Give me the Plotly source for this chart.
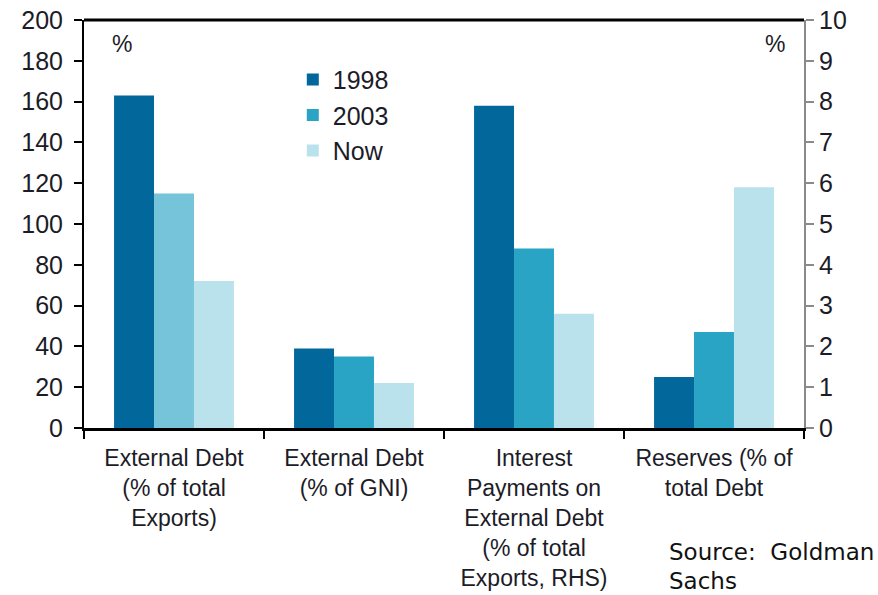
import plotly.graph_objects as go

# Categories and series values (groups 0, 1, 3 on the left axis in %, group 2 on the right axis)
categories = [
    "External Debt<br>(% of total<br>Exports)",
    "External Debt<br>(% of GNI)",
    "Interest<br>Payments on<br>External Debt<br>(% of total<br>Exports, RHS)",
    "Reserves (% of<br>total Debt",
]
series_names = ["1998", "2003", "Now"]
values_1998 = [163, 39, 7.9, 25]
values_2003 = [115, 35, 4.4, 47]
values_now = [72, 22, 2.8, 118]
rhs_index = [2]
left_ticks = list(range(0, 201, 20))
right_ticks = list(range(0, 11))

colors = {"1998": "#02679A", "2003": "#29A4C4", "Now": "#B9E2EC"}
first_2003_color = "#75C4D9"

FONT = "Liberation Sans, Arial, sans-serif"
SRC_FONT = "DejaVu Sans, Verdana, sans-serif"
TEXT = "#1c1c28"

bar_w = 0.222
fig = go.Figure()

for i, (name, vals) in enumerate(zip(series_names, [values_1998, values_2003, values_now])):
    offset = -0.333 + i * bar_w
    lhs = [k for k in range(len(categories)) if k not in rhs_index]
    lhs_colors = [colors[name]] * len(lhs)
    if name == "2003":
        lhs_colors[0] = first_2003_color
    fig.add_trace(go.Bar(
        x=[categories[k] for k in lhs], y=[vals[k] for k in lhs],
        name=name, legendgroup=name, showlegend=False,
        marker=dict(color=lhs_colors, line=dict(width=0)),
        width=bar_w, offset=offset, yaxis="y",
    ))
    fig.add_trace(go.Bar(
        x=[categories[k] for k in rhs_index], y=[vals[k] for k in rhs_index],
        name=name, legendgroup=name, showlegend=True, legendrank=i + 1,
        marker=dict(color=colors[name], line=dict(width=0)),
        width=bar_w, offset=offset, yaxis="y2",
    ))

fig.update_layout(
    width=878, height=595,
    margin=dict(l=84, r=74, t=20, b=167),
    paper_bgcolor="white", plot_bgcolor="white",
    barmode="overlay",
    font=dict(family=FONT, size=24, color=TEXT),
    showlegend=True,
    legend=dict(
        x=0.29, y=0.91, xanchor="left", yanchor="top",
        font=dict(family=FONT, size=25, color=TEXT),
        bgcolor="rgba(0,0,0,0)", itemwidth=30, tracegroupgap=0,
    ),
    xaxis=dict(
        type="category", categoryorder="array", categoryarray=categories,
        range=[-0.5, 3.5], automargin=False,
        showline=True, linecolor="black", linewidth=2.5,
        ticks="outside", tickson="boundaries", ticklen=8, tickwidth=2, tickcolor="black",
        showgrid=False, zeroline=False, ticklabelstandoff=8,
        tickfont=dict(family=FONT, size=23, color=TEXT),
    ),
    yaxis=dict(
        range=[0, 200], tickvals=left_ticks, automargin=False,
        showline=True, linecolor="black", linewidth=2,
        ticks="outside", ticklen=8, tickwidth=2, tickcolor="black",
        showgrid=False, zeroline=False, ticklabelstandoff=6,
        tickfont=dict(family=FONT, size=25, color=TEXT),
    ),
    yaxis2=dict(
        range=[0, 10], tickvals=right_ticks, overlaying="y", side="right",
        automargin=False,
        showline=True, linecolor="#8a8a8a", linewidth=2,
        ticks="outside", ticklen=8, tickwidth=2, tickcolor="#8a8a8a",
        showgrid=False, zeroline=False,
        tickfont=dict(family=FONT, size=25, color=TEXT),
    ),
    shapes=[dict(type="line", xref="paper", yref="paper", x0=0, x1=1, y0=1, y1=1,
                 line=dict(color="black", width=3))],
    annotations=[
        dict(text="%", xref="paper", yref="paper", x=0.036, y=0.94, showarrow=False,
             xanchor="left", yanchor="middle", font=dict(family=FONT, size=23, color=TEXT)),
        dict(text="%", xref="paper", yref="paper", x=0.976, y=0.94, showarrow=False,
             xanchor="right", yanchor="middle", font=dict(family=FONT, size=23, color=TEXT)),
        dict(text="Source:  Goldman", xref="paper", yref="paper", x=0.81, y=-0.305,
             showarrow=False, xanchor="left", yanchor="middle",
             font=dict(family=SRC_FONT, size=23, color="#111")),
        dict(text="Sachs", xref="paper", yref="paper", x=0.81, y=-0.376,
             showarrow=False, xanchor="left", yanchor="middle",
             font=dict(family=SRC_FONT, size=23, color="#111")),
    ],
)

fig.write_html("out.html")
